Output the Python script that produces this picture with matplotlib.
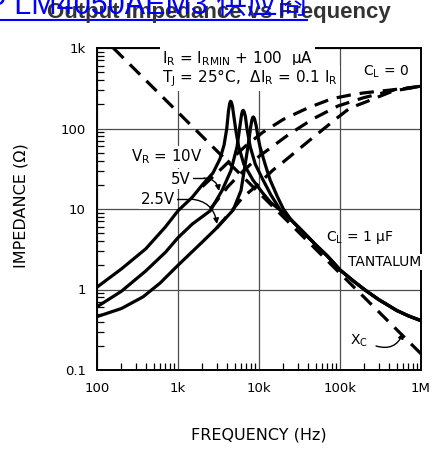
import matplotlib
matplotlib.use("Agg")
import matplotlib.pyplot as plt
from matplotlib.lines import Line2D

plt.rcParams['font.family'] = ['DejaVu Sans']
plt.rcParams['mathtext.default'] = 'regular'

# C_L = 1 uF tantalum, three reverse voltages
freq_10v = [100, 200, 400, 700, 1000, 1500, 2000, 2700, 3300, 3700, 4000, 4200, 4350, 4450, 4550, 4700, 4900, 5200, 5600, 6500, 8400, 11000, 14000, 18000]
z_10v = [1.07, 1.8, 3.2, 6.0, 9.5, 14, 20, 28, 42, 62, 100, 165, 205, 218, 213, 190, 140, 92, 60, 36, 23, 16, 12, 9.8]
freq_5v = [100, 200, 400, 700, 1000, 1500, 2500, 3500, 4500, 5350, 5800, 6100, 6250, 6400, 6550, 6800, 7100, 7800, 9000, 11200, 14000, 18000]
z_5v = [0.61, 0.95, 1.7, 2.9, 4.4, 6.5, 9.5, 17, 30, 59, 105, 150, 165, 168, 162, 140, 100, 59, 36, 23, 15, 10]
freq_25v = [100, 200, 370, 600, 1000, 2000, 3000, 4800, 6000, 7300, 7900, 8200, 8400, 8550, 8800, 9200, 9800, 10300, 12000, 13700, 17000, 20000]
z_25v = [0.46, 0.58, 0.81, 1.2, 2.0, 3.9, 5.8, 9.7, 17, 59, 105, 130, 138, 139, 132, 110, 75, 59, 35, 23, 14, 10]
# shared high-frequency tail (ESR of tantalum)
freq_tail = [25000, 35000, 50000, 70000, 100000, 150000, 200000, 300000, 500000, 700000, 1000000]
z_tail = [7.3, 5.2, 3.6, 2.6, 1.75, 1.25, 1.0, 0.75, 0.55, 0.47, 0.41]

# C_L = 0 (dashed)
freq_cl0_10v = [2000, 3600, 4700, 7000, 11200, 20000, 40000, 80000, 133000, 192000, 451000, 1000000]
z_cl0_10v = [19, 33, 43, 62, 90, 130, 180, 235, 260, 276, 303, 335]
freq_cl0_5v = [2500, 4140, 5800, 10000, 22800, 46000, 94000, 133000, 192000, 451000, 1000000]
z_cl0_5v = [10, 19, 27, 45, 83, 131, 190, 213, 240, 298, 335]
freq_cl0_25v = [3000, 4800, 6300, 8900, 14900, 19700, 42600, 92000, 133000, 192000, 451000, 1000000]
z_cl0_25v = [5.8, 10, 14, 18.6, 30.5, 38, 72, 135, 180, 207, 292, 335]

# capacitor reactance X_C
freq_xc = [159, 1000, 10000, 100000, 1000000]
z_xc = [1000, 159, 15.9, 1.59, 0.159]

xticks = [100, 1e3, 1e4, 1e5, 1e6]
xticklabels = ['100', '1k', '10k', '100k', '1M']
yticks = [0.1, 1, 10, 100, 1000]
yticklabels = ['0.1', '1', '10', '100', '1k']

W, H = 433, 449
fig = plt.figure(figsize=(W / 100, H / 100), dpi=100)
ax = fig.add_axes([97 / W, (H - 370) / H, 324 / W, 322 / H])


def P(px, py):
    # pixel position in the picture -> axes fraction
    return ((px - 97) / 324, (370 - py) / 322)


ax.set_xscale('log')
ax.set_yscale('log')
ax.set_xlim(100, 1e6)
ax.set_ylim(0.1, 1000)

ax.grid(True, which='major', color='0.3', lw=0.9)
ax.set_axisbelow(True)

dash = dict(color='k', lw=2.3, dashes=(4.5, 2.8), solid_capstyle='butt', dash_capstyle='butt')
ax.plot(freq_xc, z_xc, **dash)
ax.plot(freq_cl0_10v, z_cl0_10v, **dash)
ax.plot(freq_cl0_5v, z_cl0_5v, **dash)
ax.plot(freq_cl0_25v, z_cl0_25v, **dash)

for f, z in [(freq_10v, z_10v), (freq_5v, z_5v), (freq_25v, z_25v)]:
    ax.plot(f + freq_tail, z + z_tail, color='k', lw=2.3, solid_joinstyle='round')

ax.set_xticks(xticks)
ax.set_xticklabels(xticklabels)
ax.set_yticks(yticks)
ax.set_yticklabels(yticklabels)
ax.tick_params(which='major', length=0, labelsize=9.5, colors='k')
ax.tick_params(axis='x', which='major', pad=9)
ax.tick_params(axis='y', which='major', pad=8)
ax.tick_params(which='minor', direction='in', length=5, width=0.9, labelleft=False, labelbottom=False)
for s in ax.spines.values():
    s.set_linewidth(1.4)

ax.set_xlabel('FREQUENCY (Hz)', fontsize=11.5)
ax.set_ylabel('IMPEDANCE (\u03a9)', fontsize=11.5)
ax.xaxis.set_label_coords(0.5, (370 - 428) / 322)
ax.yaxis.set_label_coords((29 - 97) / 324, 0.512)

wb = dict(facecolor='white', edgecolor='none', pad=1.5)
fs = 10
ax.text(*P(162, 58), '$I_R$ = $I_{RMIN}$ + 100  \u03bcA', transform=ax.transAxes, fontsize=11, va='center', ha='left', bbox=wb)
ax.text(*P(162, 78), '$T_J$ = 25\u00b0C,  \u0394$I_R$ = 0.1 $I_R$', transform=ax.transAxes, fontsize=11, va='center', ha='left', bbox=wb)
ax.text(*P(363, 72), '$C_L$ = 0', transform=ax.transAxes, fontsize=fs, va='center', ha='left')
ax.text(*P(131, 157), '$V_R$ = 10V', transform=ax.transAxes, fontsize=10.8, va='center', ha='left', bbox=wb)
ax.text(*P(191, 179), '5V', transform=ax.transAxes, fontsize=10.8, va='center', ha='right', bbox=wb)
ax.text(*P(175, 199), '2.5V', transform=ax.transAxes, fontsize=10.8, va='center', ha='right', bbox=wb)
ax.text(*P(326, 238), '$C_L$ = 1 \u03bcF', transform=ax.transAxes, fontsize=fs, va='center', ha='left')
ax.text(*P(421, 262), 'TANTALUM', transform=ax.transAxes, fontsize=fs, va='center', ha='right', bbox=dict(facecolor='white', edgecolor='none', pad=0.5))
ax.text(*P(350, 341), '$X_C$', transform=ax.transAxes, fontsize=fs, va='center', ha='left')

thin = dict(color='k', lw=1.0)
ax.add_line(Line2D(*zip(P(192, 178), P(204, 178)), transform=ax.transAxes, **thin))
ax.add_line(Line2D(*zip(P(176, 199), P(190, 199)), transform=ax.transAxes, **thin))
arr = dict(arrowstyle='-|>', lw=1.0, color='k', shrinkA=0, shrinkB=0, mutation_scale=8)
ax.annotate('', xy=P(219, 191), xytext=P(204, 178), xycoords='axes fraction', textcoords='axes fraction',
            arrowprops=dict(connectionstyle='arc3,rad=-0.4', **arr))
ax.annotate('', xy=P(217, 224), xytext=P(190, 199), xycoords='axes fraction', textcoords='axes fraction',
            arrowprops=dict(connectionstyle='arc3,rad=-0.4', **arr))
ax.annotate('', xy=P(403, 333), xytext=P(376, 346), xycoords='axes fraction', textcoords='axes fraction',
            arrowprops=dict(connectionstyle='arc3,rad=0.45', **arr))

# title and the overlapping link text on top
fig.text(219 / W, 1 - 18 / H, 'Output Impedance vs Frequency', ha='center', va='baseline',
         fontsize=16, fontweight='bold', color='#333333', family=['Liberation Sans'])
fig.text(-14 / W, 1 - 13 / H, 'P LM4050AEM3 \u4f9b\u5e94\u5546', ha='left', va='baseline',
         fontsize=22, color='#0000ff', family=['Liberation Sans', 'Noto Sans CJK SC'])
fig.add_artist(Line2D([0, 307 / W], [1 - 20 / H, 1 - 20 / H], transform=fig.transFigure, color='#0000ff', lw=1.5))

fig.savefig('out.png', dpi=100)
